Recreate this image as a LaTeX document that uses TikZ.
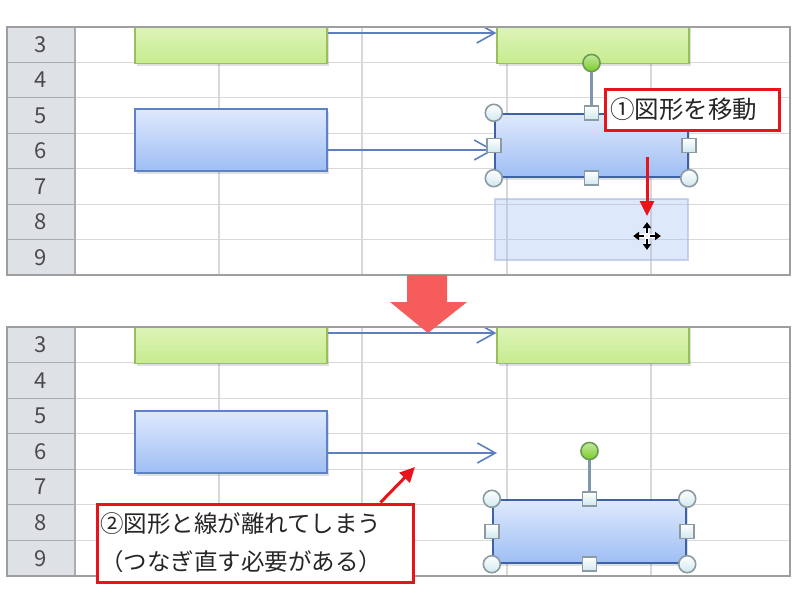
\documentclass[tikz,border=0pt]{standalone}
\usepackage{fontspec}
\setmainfont{Noto Sans CJK JP}
\usetikzlibrary{arrows.meta,shadows,calc}
\definecolor{hdrfill}{HTML}{DEE2E7}
\definecolor{hdrline}{HTML}{A9ADB2}
\definecolor{gridline}{HTML}{D8D8D8}
\definecolor{framecol}{HTML}{9E9E9E}
\definecolor{numcol}{HTML}{4A4A4A}
\definecolor{greentop}{HTML}{EEFAD6}
\definecolor{greenbot}{HTML}{C6EB8E}
\definecolor{greenline}{HTML}{98BF5A}
\definecolor{bluetop}{HTML}{DFE9FD}
\definecolor{bluebot}{HTML}{9EBEF4}
\definecolor{blueline}{HTML}{5F82C6}
\definecolor{selline}{HTML}{3E62A6}
\definecolor{conncol}{HTML}{5D7EC0}
\definecolor{calred}{HTML}{E8141C}
\definecolor{bigred}{HTML}{F65C5C}
\definecolor{hfill}{HTML}{CFE8EE}
\definecolor{hline}{HTML}{8C9BA2}
\definecolor{rotfill}{HTML}{7ACC28}
\definecolor{rotline}{HTML}{6A9A50}
\definecolor{stemcol}{HTML}{7E96AE}
\tikzset{
  box/.style={rectangle, inner sep=0pt, line width=1.3pt,
    drop shadow={shadow xshift=1.5pt,shadow yshift=-2.5pt,opacity=0.25}},
  greenbox/.style={box, draw=greenline, top color=greentop, bottom color=greenbot,
    minimum width=192pt, minimum height=61pt},
  bluebox/.style={box, draw=blueline, top color=bluetop, bottom color=bluebot,
    minimum width=192pt, minimum height=62pt},
  selbox/.style={bluebox, draw=selline, line width=2.4pt, minimum width=193pt, minimum height=63pt},
  ghostbox/.style={rectangle, inner sep=0pt, line width=1.2pt, draw=blueline!55, fill=bluebot,
    fill opacity=0.35, draw opacity=0.6, minimum width=193pt, minimum height=61pt},
  conn/.style={draw=conncol, line width=1.6pt,
    -{Straight Barb[length=18pt,width=20pt,line width=1.6pt]}},
  redarrow/.style={draw=calred, line width=3pt,
    -{Triangle[length=15pt,width=14pt]}},
  callout/.style={rectangle, draw=calred, line width=3pt, fill=white,
    font=\fontsize{23.5}{38}\selectfont, text=black!85},
  rownum/.style={font=\fontsize{22}{22}\selectfont, text=numcol, inner sep=0pt},
  cornerh/.style={circle, draw=hline, line width=1.6pt, top color=white, bottom color=hfill,
    minimum size=17pt, inner sep=0pt},
  sideh/.style={rectangle, draw=hline, line width=1.5pt, top color=white, bottom color=hfill,
    minimum size=14pt, inner sep=0pt},
  roth/.style={circle, draw=rotline, line width=1.4pt, top color=rotfill!45!white, bottom color=rotfill,
    minimum size=17pt, inner sep=0pt},
  stem/.style={draw=stemcol, line width=2.4pt},
  framestyle/.style={draw=framecol, line width=1.6pt},
}
\newcommand\sheetpanel[3]{%
  \pgfmathsetmacro\rowh{(#2-#1)/7}%
  \fill[white] (7,#1) rectangle (790,#2);
  \fill[hdrfill] (7,#1) rectangle (75,#2);
  \foreach \k in {1,...,6}{
    \draw[gridline, line width=1.2pt] (75,{#1+\k*\rowh}) -- (790,{#1+\k*\rowh});
    \draw[hdrline, line width=1.2pt] (7,{#1+\k*\rowh}) -- (75,{#1+\k*\rowh});
  }
  \foreach \xx in {219,362,507,651} \draw[gridline, line width=1.2pt] (\xx,#1) -- (\xx,#2);
  \draw[hdrline, line width=1.4pt] (75,#1) -- (75,#2);
  \foreach \n [count=\k from 0] in {3,...,9}
    \node[rownum] (#3row\n) at (41,{#1+(\k+0.5)*\rowh}) {\n};
}
\newcommand\selhandles[2]{%
  \node[cornerh] (#2nw) at (#1.north west) {};
  \node[cornerh] (#2ne) at (#1.north east) {};
  \node[cornerh] (#2sw) at (#1.south west) {};
  \node[cornerh] (#2se) at (#1.south east) {};
  \node[sideh] (#2n) at (#1.north) {};
  \node[sideh] (#2s) at (#1.south) {};
  \node[sideh] (#2w) at (#1.west) {};
  \node[sideh] (#2e) at (#1.east) {};
}
\begin{document}
\begin{tikzpicture}[x=1pt,y=-1pt]
\useasboundingbox (0,0) rectangle (800,600);
\fill[white] (0,0) rectangle (800,600);

% ---------------- top panel ----------------
\sheetpanel{27}{275}{a}
\begin{scope}
  \clip (7,27) rectangle (790,275);
  \node[greenbox] (gl) at (231,33) {};
  \node[greenbox] (gr) at (593,33) {};
  \node[bluebox] (bl) at (231,140) {};
  \node[ghostbox] (gh) at (591.5,229.5) {};
  \node[selbox] (bm) at (591.5,145.5) {};
  \draw[conn] (gl.east) -- (gr.west);
  \draw[conn] ([yshift=-10pt]bl.east) -- ([yshift=-10pt]bl.east -| bm.west);
  \selhandles{bm}{ha}
  \node[roth] (rota) at (591.5,63) {};
  \draw[stem] (rota.south) -- (han.north);
  \node[roth] at (rota) {};
\end{scope}
\draw[framestyle] (7,27) rectangle (790,275);

\node[callout, font=\fontsize{24.5}{30}\selectfont, text width=164pt, align=left,
      inner xsep=5pt, inner ysep=0pt, minimum height=41pt] (c1) at (692,109.5) {①図形を移動};
\coordinate (a1s) at (647,157);
\coordinate (a1e) at (647,216);
\draw[redarrow] (a1s) -- (a1e);

% move cursor
\coordinate (cur) at (647,236);
\foreach \a in {0,90,180,270}{
  \draw[white, line width=4pt, line cap=round] ($(cur)+(\a:3pt)$) -- ($(cur)+(\a:12pt)$);
}
\foreach \a in {0,90,180,270}{
  \draw[black, line width=1.5pt, -{Triangle[length=6pt,width=8pt]}] ($(cur)+(\a:3pt)$) -- ($(cur)+(\a:14pt)$);
}

% ---------------- bottom panel ----------------
\sheetpanel{327}{576}{b}
\begin{scope}
  \clip (7,327) rectangle (790,576);
  \node[greenbox] (gl2) at (231,333) {};
  \node[greenbox] (gr2) at (593,333) {};
  \node[bluebox] (bl2) at (231,442) {};
  \coordinate (e2) at (497,453);
  \draw[conn] (gl2.east) -- (gr2.west);
  \draw[conn] ([yshift=-11pt]bl2.east) -- (e2);
  \node[selbox] (bs) at (589.5,531.5) {};
  \selhandles{bs}{hb}
  \node[roth] (rotb) at (589.5,451) {};
  \draw[stem] (rotb.south) -- (hbn.north);
  \node[roth] at (rotb) {};
\end{scope}
\draw[framestyle] (7,327) rectangle (790,576);

\node[callout, text width=310pt, align=left, inner xsep=3pt, inner ysep=0pt,
      minimum height=78pt] (c2) at (255,543)
  {②図形と線が離れてしまう\\（つなぎ直す必要がある）};
\coordinate (e3) at (415,467);
\draw[redarrow] ([xshift=285pt]c2.north west) -- (e3);

% big down arrow
\fill[bigred] (407,275) -- (447,275) -- (447,302) -- (467,302) -- (428,333)
  -- (390,302) -- (407,302) -- cycle;
\end{tikzpicture}
\end{document}
